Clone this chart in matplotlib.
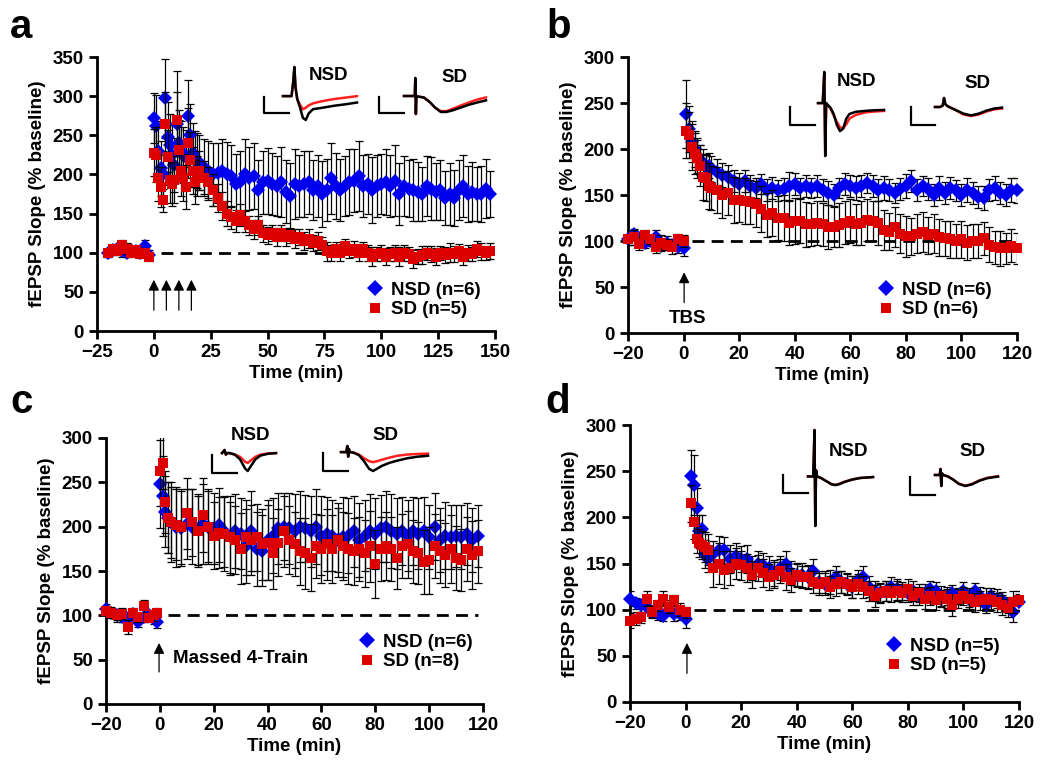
import numpy as np
import matplotlib
matplotlib.use('Agg')
from matplotlib import pyplot as plt
from matplotlib.lines import Line2D

plt.rcParams['font.family'] = ['Liberation Sans', 'DejaVu Sans']
plt.rcParams['font.weight'] = 'bold'
plt.rcParams['axes.labelweight'] = 'bold'

BLUE = '#0000ee'
RED = '#dd0000'

# ---------------- panel a (4 trains) ----------------
a_time = np.r_[np.arange(-20, 0, 2), np.arange(0, 21), np.arange(22, 149, 2)]
a_nsd = [100, 103, 105, 102, 100, 104, 102, 100, 108, 97,
         272, 262, 230, 208, 200, 297, 248, 237, 225, 212, 265, 240, 230, 225, 222, 275, 250, 228, 220, 218, 215,
         210, 205, 200, 202, 205, 200, 198, 188, 190, 200, 195, 198, 180, 190, 192, 188, 185, 190, 178, 172,
         188, 185, 188, 190, 180, 185, 175, 180, 195, 185, 180, 185, 190, 192, 198, 185, 188, 180, 185, 188,
         190, 185, 192, 175, 185, 182, 180, 178, 175, 185, 182, 178, 180, 170, 175, 170, 180, 185, 175, 178,
         175, 175, 182, 175]
a_nsd_err = [5, 6, 5, 7, 6, 5, 6, 5, 8, 6,
             32, 40, 38, 35, 30, 50, 45, 40, 38, 35, 40, 42, 38, 36, 35, 45, 40, 38, 36, 35, 35,
             35, 38, 40, 38, 40, 42, 40, 38, 40, 45, 40, 42, 38, 40, 42, 40, 38, 45, 40, 42,
             45, 40, 42, 40, 38, 40, 42, 40, 45, 42, 40, 38, 42, 40, 45, 40, 38, 42, 40, 38,
             42, 40, 45, 40, 38, 36, 40, 38, 35, 38, 40, 36, 38, 35, 40, 36, 38, 40, 36, 38,
             35, 36, 38, 30]
a_sd = [100, 105, 102, 110, 105, 100, 103, 98, 100, 95,
        228, 225, 196, 184, 167, 265, 222, 193, 188, 193, 270, 231, 204, 196, 184, 240, 219, 205, 190, 198, 205,
        195, 190, 180, 170, 160, 150, 145, 140, 148, 140, 135, 130, 135, 125, 122, 125, 120, 125, 120, 122,
        118, 120, 115, 118, 112, 115, 110, 102, 100, 105, 100, 108, 102, 105, 100, 105, 100, 95, 98, 100,
        95, 98, 100, 95, 100, 98, 92, 95, 97, 100, 98, 95, 100, 97, 100, 98, 102, 95, 100, 98,
        105, 102, 100, 102]
a_sd_err = [5, 6, 5, 6, 7, 5, 6, 5, 6, 5,
            30, 35, 30, 25, 15, 40, 35, 30, 28, 30, 62, 38, 32, 30, 28, 45, 35, 30, 28, 25, 25,
            22, 20, 20, 18, 18, 16, 15, 14, 14, 13, 12, 12, 12, 11, 11, 10, 12, 10, 11, 10,
            12, 10, 11, 12, 10, 11, 10, 12, 10, 9, 11, 10, 9, 10, 11, 9, 10, 12, 9, 10,
            11, 9, 10, 12, 10, 9, 11, 10, 12, 9, 10, 11, 9, 10, 12, 10, 9, 11, 10, 9,
            10, 11, 9, 10]
a_arrows = [0, 5.5, 11, 16.5]

# ---------------- panel b (TBS) ----------------
b_time = np.r_[np.arange(-20, 1, 2), np.arange(1, 11), np.arange(12, 121, 2)]
b_nsd = [102, 108, 103, 98, 100, 104, 95, 98, 96, 93, 92,
         238, 222, 208, 200, 192, 188, 185, 180, 182, 178,
         175, 172, 170, 165, 162, 165, 160, 158, 162, 155, 158, 155, 157, 160, 162, 158, 160, 158, 160, 155,
         152, 150, 158, 162, 160, 158, 160, 163, 160, 155, 158, 155, 152, 157, 160, 165, 155, 160, 157, 150,
         158, 152, 158, 155, 150, 155, 152, 148, 147, 155, 158, 152, 150, 155, 155]
b_nsd_err = [6, 5, 7, 6, 5, 8, 6, 7, 5, 6, 8,
             37, 25, 22, 20, 18, 16, 15, 15, 14, 14,
             14, 13, 13, 12, 12, 12, 12, 11, 11, 12, 12, 11, 12, 15, 12, 11, 12, 11, 12, 12,
             13, 12, 11, 12, 12, 13, 12, 11, 12, 12, 13, 12, 11, 12, 13, 12, 12, 11, 12, 12,
             13, 12, 12, 11, 12, 13, 12, 12, 13, 12, 13, 12, 12, 13, 14]
b_sd = [102, 104, 97, 106, 102, 94, 98, 96, 93, 102, 100,
        220, 215, 202, 195, 190, 182, 170, 168, 160, 158,
        155, 150, 152, 145, 145, 143, 142, 140, 135, 128, 130, 125, 125, 120, 122, 122, 118, 118, 120, 118,
        115, 115, 117, 120, 122, 118, 120, 123, 122, 120, 112, 110, 115, 108, 105, 105, 108, 110, 106, 108,
        104, 103, 102, 100, 102, 98, 100, 100, 103, 96, 93, 92, 92, 95, 92]
b_sd_err = [6, 8, 7, 6, 5, 7, 8, 6, 7, 6, 7,
            30, 25, 25, 22, 22, 22, 25, 25, 25, 24,
            25, 25, 24, 25, 24, 25, 24, 25, 25, 24, 25, 24, 25, 24, 25, 24, 24, 23, 24, 23,
            24, 22, 24, 23, 24, 22, 24, 23, 22, 24, 22, 20, 22, 21, 22, 20, 21, 22, 20, 21,
            20, 19, 20, 19, 20, 19, 18, 19, 18, 19, 18, 19, 17, 18, 17]

# ---------------- panel c (massed 4-train) ----------------
c_time = np.r_[np.arange(-20, 0, 2), [-1], np.arange(0, 5), np.arange(6, 119, 2)]
c_nsd = [107, 103, 100, 98, 97, 102, 93, 98, 100, 97, 92,
         248, 235, 217, 210, 205,
         200, 198, 203, 200, 197, 203, 200, 198, 202, 195, 190, 195, 192, 178, 195, 175, 173, 185, 190, 198,
         200, 198, 195, 200, 198, 195, 200, 190, 192, 190, 185, 188, 190, 195, 185, 190, 195, 192, 198, 200,
         195, 192, 195, 190, 195, 192, 195, 188, 200, 185, 190, 188, 190, 188, 192, 185, 190]
c_nsd_err = [6, 5, 7, 5, 6, 5, 6, 5, 6, 7, 6,
             50, 45, 40, 40, 45,
             45, 42, 40, 42, 40, 45, 42, 40, 42, 40, 45, 42, 40, 42, 45, 42, 40, 45, 42, 40,
             38, 40, 42, 40, 38, 40, 42, 45, 42, 40, 42, 45, 42, 40, 42, 40, 42, 40, 38, 40,
             42, 40, 38, 40, 38, 40, 38, 36, 38, 36, 38, 36, 35, 36, 35, 36, 35]
c_sd = [105, 103, 100, 102, 87, 103, 98, 110, 97, 100, 103,
        263, 272, 228, 210, 205,
        202, 200, 215, 205, 195, 213, 200, 190, 193, 192, 188, 185, 175, 188, 185, 188, 180, 182, 170, 182,
        195, 185, 180, 172, 170, 165, 178, 175, 180, 175, 185, 178, 175, 172, 175, 170, 178, 158, 175, 178,
        175, 165, 178, 180, 172, 170, 160, 162, 178, 172, 168, 175, 165, 162, 175, 168, 172]
c_sd_err = [5, 6, 5, 6, 8, 5, 6, 7, 5, 6, 5,
            40, 30, 35, 40, 40,
            40, 42, 40, 38, 40, 42, 40, 38, 40, 42, 40, 38, 40, 42, 40, 38, 40, 42, 40, 38,
            40, 38, 36, 38, 40, 38, 36, 38, 40, 38, 36, 38, 40, 38, 36, 38, 40, 38, 36, 38,
            36, 35, 36, 38, 36, 35, 36, 38, 36, 35, 36, 38, 36, 35, 36, 38, 36]

# ---------------- panel d ----------------
d_time = np.r_[np.arange(-20, 1, 2), np.arange(2, 9), np.arange(10, 121, 2)]
d_nsd = [112, 107, 105, 103, 97, 95, 93, 100, 95, 95, 90,
         245, 235, 210, 185, 187, 160, 155,
         160, 165, 165, 155, 158, 155, 155, 145, 150, 148, 145, 140, 145, 150, 140, 138, 138, 135, 142, 130,
         128, 130, 135, 130, 128, 125, 132, 135, 125, 120, 118, 120, 125, 122, 120, 118, 120, 115, 118, 122,
         120, 112, 115, 118, 115, 120, 112, 120, 115, 105, 115, 112, 110, 105, 97, 108]
d_nsd_err = [8, 6, 7, 6, 5, 6, 5, 6, 7, 6, 10,
             28, 32, 22, 18, 16, 15, 14,
             14, 15, 14, 15, 14, 14, 15, 13, 14, 13, 13, 14, 13, 14, 13, 12, 13, 12, 13, 12,
             12, 13, 12, 12, 11, 12, 11, 12, 11, 11, 10, 11, 10, 11, 10, 10, 11, 10, 10, 9,
             10, 9, 10, 9, 9, 10, 9, 9, 10, 9, 9, 10, 9, 9, 10, 9]
d_sd = [88, 90, 92, 112, 98, 105, 112, 103, 110, 100, 97,
        215, 195, 176, 172, 170, 168, 165,
        145, 150, 143, 145, 150, 148, 145, 138, 145, 140, 135, 138, 142, 135, 132, 138, 135, 135, 130, 128,
        130, 125, 128, 130, 128, 125, 128, 125, 120, 115, 118, 120, 118, 120, 118, 122, 115, 118, 112, 115,
        110, 115, 112, 105, 112, 115, 112, 108, 110, 112, 110, 108, 105, 102, 108, 110]
d_sd_err = [8, 7, 6, 8, 7, 6, 8, 7, 6, 7, 6,
            20, 18, 15, 15, 15, 16, 17,
            20, 22, 20, 18, 17, 16, 15, 15, 14, 15, 14, 14, 13, 14, 13, 13, 12, 13, 12, 12,
            12, 12, 13, 12, 12, 12, 11, 12, 11, 12, 11, 11, 10, 11, 10, 11, 10, 10, 11, 10,
            10, 11, 10, 12, 10, 10, 11, 10, 10, 11, 10, 10, 11, 10, 12, 10]

# ---------------- example fEPSP traces (insets) ----------------
tr_a_nsd_t = [0, 3, 3.6, 4.0, 4.4, 5.0, 6.0, 7.0, 8.0, 9.0, 10.5, 12.5, 15, 18, 22, 26]
tr_a_nsd_k = [0, 0, 0.5, 1.0, 0.3, -0.1, -0.4, -0.75, -0.82, -0.6, -0.45, -0.42, -0.38, -0.33, -0.28, -0.22]
tr_a_nsd_r = [0, 0, 0.5, 1.0, 0.3, -0.1, -0.3, -0.45, -0.4, -0.32, -0.25, -0.2, -0.15, -0.1, -0.05, 0.0]
tr_a_sd_t = [0, 3, 3.8, 4.0, 4.2, 4.4, 5, 7, 9, 11, 13, 15, 17, 20, 23, 26, 29]
tr_a_sd_k = [0, 0, 0, 0.62, -0.62, 0, -0.02, -0.05, -0.2, -0.4, -0.55, -0.55, -0.5, -0.4, -0.3, -0.22, -0.15]
tr_a_sd_r = [0, 0, 0, 0.62, -0.62, 0, -0.02, -0.05, -0.2, -0.4, -0.52, -0.52, -0.45, -0.33, -0.22, -0.12, -0.05]

tr_b_nsd_t = [0, 1.5, 2.0, 2.3, 2.6, 3.0, 4, 5, 6, 7, 8, 9, 10, 12, 15, 18, 21]
tr_b_nsd_k = [0, 0, 1.0, -1.7, 0.0, -0.05, -0.15, -0.35, -0.7, -0.9, -0.82, -0.5, -0.35, -0.28, -0.25, -0.23, -0.22]
tr_b_nsd_r = [0, 0, 1.0, -1.7, 0.0, -0.05, -0.18, -0.4, -0.6, -0.78, -0.8, -0.68, -0.5, -0.38, -0.3, -0.27, -0.25]
tr_b_sd_t = [0, 2, 3, 3.5, 4, 4.5, 5.5, 8, 11, 14, 17, 20, 23, 26]
tr_b_sd_k = [0, 0, 0.05, 0.3, 0.1, 0.05, 0.0, -0.1, -0.22, -0.28, -0.22, -0.12, -0.05, -0.02]
tr_b_sd_r = [0, 0, 0.05, 0.3, 0.1, 0.05, 0.0, -0.1, -0.25, -0.3, -0.25, -0.15, -0.08, -0.05]

tr_c_nsd_t = [0, 1, 1.5, 2, 3, 5, 7, 8, 9, 10, 11, 13, 15, 18, 21]
tr_c_nsd_k = [0, 0.1, -0.05, 0, 0, -0.05, -0.2, -0.35, -0.5, -0.58, -0.45, -0.2, -0.08, -0.02, 0]
tr_c_nsd_r = [0, 0.1, -0.05, 0, 0, -0.05, -0.12, -0.2, -0.28, -0.32, -0.25, -0.12, -0.05, -0.01, 0]
tr_c_sd_t = [0, 2, 2.5, 2.8, 3.1, 3.5, 5, 7, 9, 11, 12.5, 14, 16, 19, 22, 26, 30, 34]
tr_c_sd_k = [0, 0, 0.2, -0.15, 0.1, 0, -0.02, -0.1, -0.3, -0.55, -0.62, -0.55, -0.45, -0.35, -0.28, -0.2, -0.15, -0.12]
tr_c_sd_r = [0, 0, 0.2, -0.15, 0.1, 0, -0.02, -0.08, -0.2, -0.3, -0.33, -0.3, -0.25, -0.18, -0.12, -0.08, -0.06, -0.05]

tr_d_nsd_t = [0, 2, 2.5, 2.8, 3.1, 3.5, 5, 7, 9, 10.5, 12, 14, 17, 20, 25]
tr_d_nsd_k = [0, 0, 1.5, -1.6, 0.2, 0, -0.05, -0.15, -0.25, -0.28, -0.25, -0.18, -0.1, -0.05, -0.02]
tr_d_nsd_r = [0, 0, 1.5, -1.6, 0.2, 0, -0.05, -0.15, -0.25, -0.27, -0.24, -0.17, -0.1, -0.05, -0.02]
tr_d_sd_t = [0, 1.8, 2.1, 2.4, 2.7, 3.2, 5, 7, 9, 11.5, 14, 17, 20, 24]
tr_d_sd_k = [0, 0, 0.19, -0.35, 0.05, 0, -0.05, -0.15, -0.28, -0.35, -0.3, -0.18, -0.1, -0.05]
tr_d_sd_r = [0, 0, 0.19, -0.35, 0.05, 0, -0.05, -0.15, -0.27, -0.34, -0.29, -0.17, -0.09, -0.04]

W, H = 1050, 766
fig = plt.figure(figsize=(10.5, 7.66), dpi=100)


def box(left, top, width, height):
    # pixel box (from top-left) -> figure fraction rectangle
    return [left / W, 1 - (top + height) / H, width / W, height / H]


def draw_panel(ax, time, nsd, nsd_err, sd, sd_err, xmax):
    ax.plot([3, xmax], [100, 100], color='black', lw=2, dashes=(4.3, 2.6), zorder=1)
    ax.errorbar(time, nsd, yerr=nsd_err, fmt='none', ecolor='black', elinewidth=0.9,
                capsize=2.8, capthick=0.9, zorder=2)
    ax.plot(time, nsd, 'D', color=BLUE, ms=6.8, mew=0, zorder=3, clip_on=False)
    ax.errorbar(time, sd, yerr=sd_err, fmt='none', ecolor='black', elinewidth=0.9,
                capsize=2.8, capthick=0.9, zorder=4)
    ax.plot(time, sd, 's', color=RED, ms=6.6, mew=0, zorder=5, clip_on=False)
    for s in ['top', 'right']:
        ax.spines[s].set_visible(False)
    for s in ['left', 'bottom']:
        ax.spines[s].set_linewidth(2)
    ax.tick_params(width=2, length=6, labelsize=13.5)
    ax.set_xlabel('Time (min)', fontsize=13.5, labelpad=3)
    ax.set_ylabel('fEPSP Slope (% baseline)', fontsize=13.5, labelpad=5)


def add_legend(ax, n_nsd, n_sd, left, ymid):
    h1 = Line2D([], [], ls='none', marker='D', color=BLUE, ms=8, mew=0)
    h2 = Line2D([], [], ls='none', marker='s', color=RED, ms=7.5, mew=0)
    ax.legend([h1, h2], ['NSD (n=%d)' % n_nsd, 'SD (n=%d)' % n_sd], loc='center left',
              bbox_to_anchor=(left / W, 1 - ymid / H), bbox_transform=fig.transFigure,
              frameon=False, fontsize=13.5, handlelength=1.0, handletextpad=0.35,
              labelspacing=0.12, borderpad=0, borderaxespad=0)


def add_trace(left, top, width, height, t, black, red):
    ax = fig.add_axes(box(left, top, width, height))
    ax.plot(t, red, color='#ff2020', lw=1.8, clip_on=False)
    ax.plot(t, black, color='black', lw=1.8, clip_on=False)
    ax.set_xlim(t[0], t[-1])
    ax.set_ylim(min(black + red), max(black + red))
    ax.axis('off')


def add_bar(left, top, width, height):
    ax = fig.add_axes(box(left, top, width, height))
    ax.plot([0, 0, 1], [1, 0, 0], color='black', lw=1.6, clip_on=False)
    ax.set_xlim(0, 1)
    ax.set_ylim(0, 1)
    ax.axis('off')


def arrow(ax, x, y_top, y_bottom):
    ax.annotate('', xy=(x, y_top), xytext=(x, y_bottom),
                arrowprops=dict(arrowstyle='-|>', color='black', lw=0.9, mutation_scale=16))


# panel a
ax_a = fig.add_axes(box(97, 57, 398, 274))
draw_panel(ax_a, a_time, a_nsd, a_nsd_err, a_sd, a_sd_err, 148)
ax_a.set_xlim(-25, 150)
ax_a.set_ylim(0, 350)
ax_a.set_xticks(range(-25, 151, 25))
ax_a.set_yticks(range(0, 351, 50))
for x in a_arrows:
    arrow(ax_a, x, 69, 23)
add_legend(ax_a, 6, 5, 366, 300)

# panel b
ax_b = fig.add_axes(box(628, 57, 389, 276))
draw_panel(ax_b, b_time, b_nsd, b_nsd_err, b_sd, b_sd_err, 120)
ax_b.set_xlim(-20, 120)
ax_b.set_ylim(0, 300)
ax_b.set_xticks(range(-20, 121, 20))
ax_b.set_yticks(range(0, 301, 50))
arrow(ax_b, 0.2, 69, 30)
ax_b.text(1.5, 16, 'TBS', ha='center', va='center', fontsize=13.5)
add_legend(ax_b, 6, 6, 877, 300)

# panel c
ax_c = fig.add_axes(box(106, 438, 377, 266))
draw_panel(ax_c, c_time, c_nsd, c_nsd_err, c_sd, c_sd_err, 118)
ax_c.set_xlim(-20, 120)
ax_c.set_ylim(0, 300)
ax_c.set_xticks(range(-20, 121, 20))
ax_c.set_yticks(range(0, 301, 50))
arrow(ax_c, -0.3, 72, 33)
ax_c.text(4.8, 51, 'Massed 4-Train', ha='left', va='center', fontsize=13.5)
add_legend(ax_c, 6, 8, 358, 652)

# panel d
ax_d = fig.add_axes(box(630, 425, 389, 277))
draw_panel(ax_d, d_time, d_nsd, d_nsd_err, d_sd, d_sd_err, 120)
ax_d.set_xlim(-20, 120)
ax_d.set_ylim(0, 300)
ax_d.set_xticks(range(-20, 121, 20))
ax_d.set_yticks(range(0, 301, 50))
arrow(ax_d, 0.5, 67, 28)
add_legend(ax_d, 5, 5, 885, 656)

# insets: scale bars, traces, labels
add_bar(264, 97, 25, 16)
add_trace(283, 67, 74, 53, tr_a_nsd_t, tr_a_nsd_k, tr_a_nsd_r)
add_bar(379, 97, 25, 16)
add_trace(404, 78, 82, 36, tr_a_sd_t, tr_a_sd_k, tr_a_sd_r)

add_bar(790, 107, 25, 18)
add_trace(818, 72, 66, 84, tr_b_nsd_t, tr_b_nsd_k, tr_b_nsd_r)
add_bar(911, 107, 24, 18)
add_trace(935, 98, 67, 18, tr_b_sd_t, tr_b_sd_k, tr_b_sd_r)

add_bar(212, 455, 25, 18)
add_trace(222, 450, 54, 21, tr_c_nsd_t, tr_c_nsd_k, tr_c_nsd_r)
add_bar(323, 453, 25, 18)
add_trace(341, 446, 87, 25, tr_c_sd_t, tr_c_sd_k, tr_c_sd_r)

add_bar(783, 475, 25, 18)
add_trace(808, 430, 65, 96, tr_d_nsd_t, tr_d_nsd_k, tr_d_nsd_r)
add_bar(910, 477, 25, 18)
add_trace(935, 469, 63, 17, tr_d_sd_t, tr_d_sd_k, tr_d_sd_r)

for (x, y, s) in [(329, 75, 'NSD'), (454, 77, 'SD'), (857, 82, 'NSD'), (977, 84, 'SD'),
                  (251, 435, 'NSD'), (385, 435, 'SD'), (848, 451, 'NSD'), (972, 451, 'SD')]:
    fig.text(x / W, 1 - y / H, s, ha='center', va='center', fontsize=13.5)

# panel letters
for (x, y, s) in [(10, 38, 'a'), (546, 38, 'b'), (10, 413, 'c'), (545, 413, 'd')]:
    fig.text(x / W, 1 - y / H, s, ha='left', va='baseline', fontsize=29)

fig.savefig('out.png', dpi=100)
